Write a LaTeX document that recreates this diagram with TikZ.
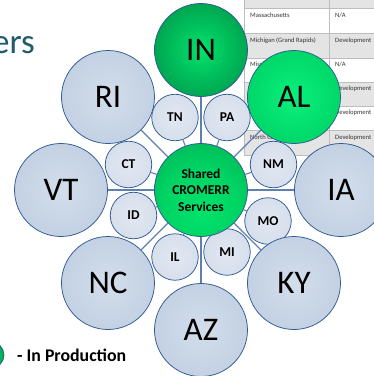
\documentclass[tikz,border=0pt]{standalone}
\usepackage{fontspec}
\setmainfont{Carlito}
\definecolor{edgeblue}{HTML}{2F5A93}
\definecolor{linkblue}{HTML}{5F80AE}
\definecolor{titleteal}{HTML}{1F5B6B}
\definecolor{rowgray}{HTML}{E4E4E4}
\definecolor{ruleg}{HTML}{BDBDBD}
\definecolor{bigin}{HTML}{D3DEEB}
\definecolor{bigout}{HTML}{C3D1E3}
\definecolor{smin}{HTML}{E2E8F2}
\definecolor{smout}{HTML}{D7DFEC}
\definecolor{gin}{HTML}{00E36A}
\definecolor{gout}{HTML}{00A651}
\definecolor{gbright}{HTML}{0AF07C}
\definecolor{gbrightout}{HTML}{00D768}
\pgfdeclareradialshading{sharedgreen}{\pgfpoint{0bp}{-14bp}}{%
 color(0bp)=(gin); color(20bp)=(gin!75!gout); color(50bp)=(gout!92!black)}
\tikzset{x=1pt,y=-1pt,
 big/.style={circle,draw=edgeblue,line width=.75pt,minimum size=93pt,inner sep=0pt,inner color=bigin,outer color=bigout,font=\fontsize{33}{33}\selectfont},
 small/.style={circle,draw=edgeblue,line width=.75pt,minimum size=46.5pt,inner sep=0pt,inner color=smin,outer color=smout,font=\fontsize{13.5}{14}\selectfont\bfseries},
 green/.style={circle,draw=edgeblue,line width=.75pt,minimum size=93pt,inner sep=0pt,font=\fontsize{33}{33}\selectfont},
 link/.style={draw=linkblue,line width=1.1pt},
 tabtxt/.style={anchor=west,inner sep=0pt,font=\fontsize{6.6}{7}\selectfont,text=black!80}}
\begin{document}
\begin{tikzpicture}
\useasboundingbox (0,0) rectangle (374,376);
\begin{scope}
\clip (0,0) rectangle (374,376);
% table
\fill[rowgray] (244,0) rectangle (374,8);
\fill[rowgray] (244,33) rectangle (374,58);
\fill[rowgray] (244,82) rectangle (374,106);
\fill[rowgray] (244,130) rectangle (374,155);
\foreach \yy in {8,33,58,82,106,130}{\draw[ruleg,line width=.8pt] (244,\yy) -- (374,\yy);}
\draw[ruleg,line width=.8pt] (244,0) -- (244,155) -- (374,155);
\draw[ruleg,line width=.8pt] (329,0) -- (329,155);
\node[tabtxt] (t1) at (250,15.5) {Massachusetts};
\node[tabtxt] (t2) at (335,15.5) {N/A};
\node[tabtxt] (t3) at (250,40.5) {Michigan (Grand Rapids)};
\node[tabtxt] (t4) at (335,40.5) {Development};
\node[tabtxt] (t5) at (250,64.5) {Mississippi};
\node[tabtxt] (t6) at (335,64.5) {N/A};
\node[tabtxt] (t7) at (335,89) {Development};
\node[tabtxt] (t8) at (335,113) {Development};
\node[tabtxt] (t9) at (250,137.5) {North Carolina};
\node[tabtxt] (t10) at (335,137.5) {Development};
% title
\node[anchor=base west,inner sep=0pt,text=titleteal,font=\fontsize{35}{35}\selectfont] (title) at (-8,53) {ers};
% nodes
\node[small] (TN) at (175,117.5) {TN};
\node[small] (PA) at (227,117.5) {PA};
\node[small] (NM) at (273.5,164.5) {NM};
\node[small] (MO) at (268,221) {MO};
\node[small] (MI) at (227,252) {MI};
\node[small] (IL) at (175,257) {IL};
\node[small] (ID) at (133.5,215.5) {ID};
\node[small] (CT) at (128.5,164.5) {CT};
\node[big] (RI) at (108,97) {RI};
\node[big] (VT) at (61,190) {VT};
\node[big] (IA) at (341,190) {IA};
\node[big] (NC) at (108,283) {NC};
\node[big] (KY) at (294,283) {KY};
\node[big] (AZ) at (201,330) {AZ};
\node[green,inner color=gin,outer color=gout] (IN) at (201,50) {IN};
\node[green,shading=sharedgreen,font=\fontsize{13.5}{16.5}\selectfont\bfseries,align=center] (S) at (201,190) {Shared\\CROMERR\\Services};
% links
\foreach \n in {TN,PA,NM,MO,MI,IL,ID,CT,RI,VT,IA,NC,KY,AZ,IN}{\draw[link] (S) -- (\n);}
\node[green,inner color=gbright,outer color=gbrightout] (AL) at (294,97) {AL};
\draw[link] (S) -- (AL);
% legend
\node[circle,draw=edgeblue,line width=.75pt,minimum size=26pt,inner sep=0pt,inner color=gin,outer color=gout] (leg) at (-9,355) {};
\node[anchor=west,inner sep=0pt,font=\fontsize{17.8}{18}\selectfont\bfseries] (legt) at (17,355.5) {- In Production};
\end{scope}
\end{tikzpicture}
\end{document}
